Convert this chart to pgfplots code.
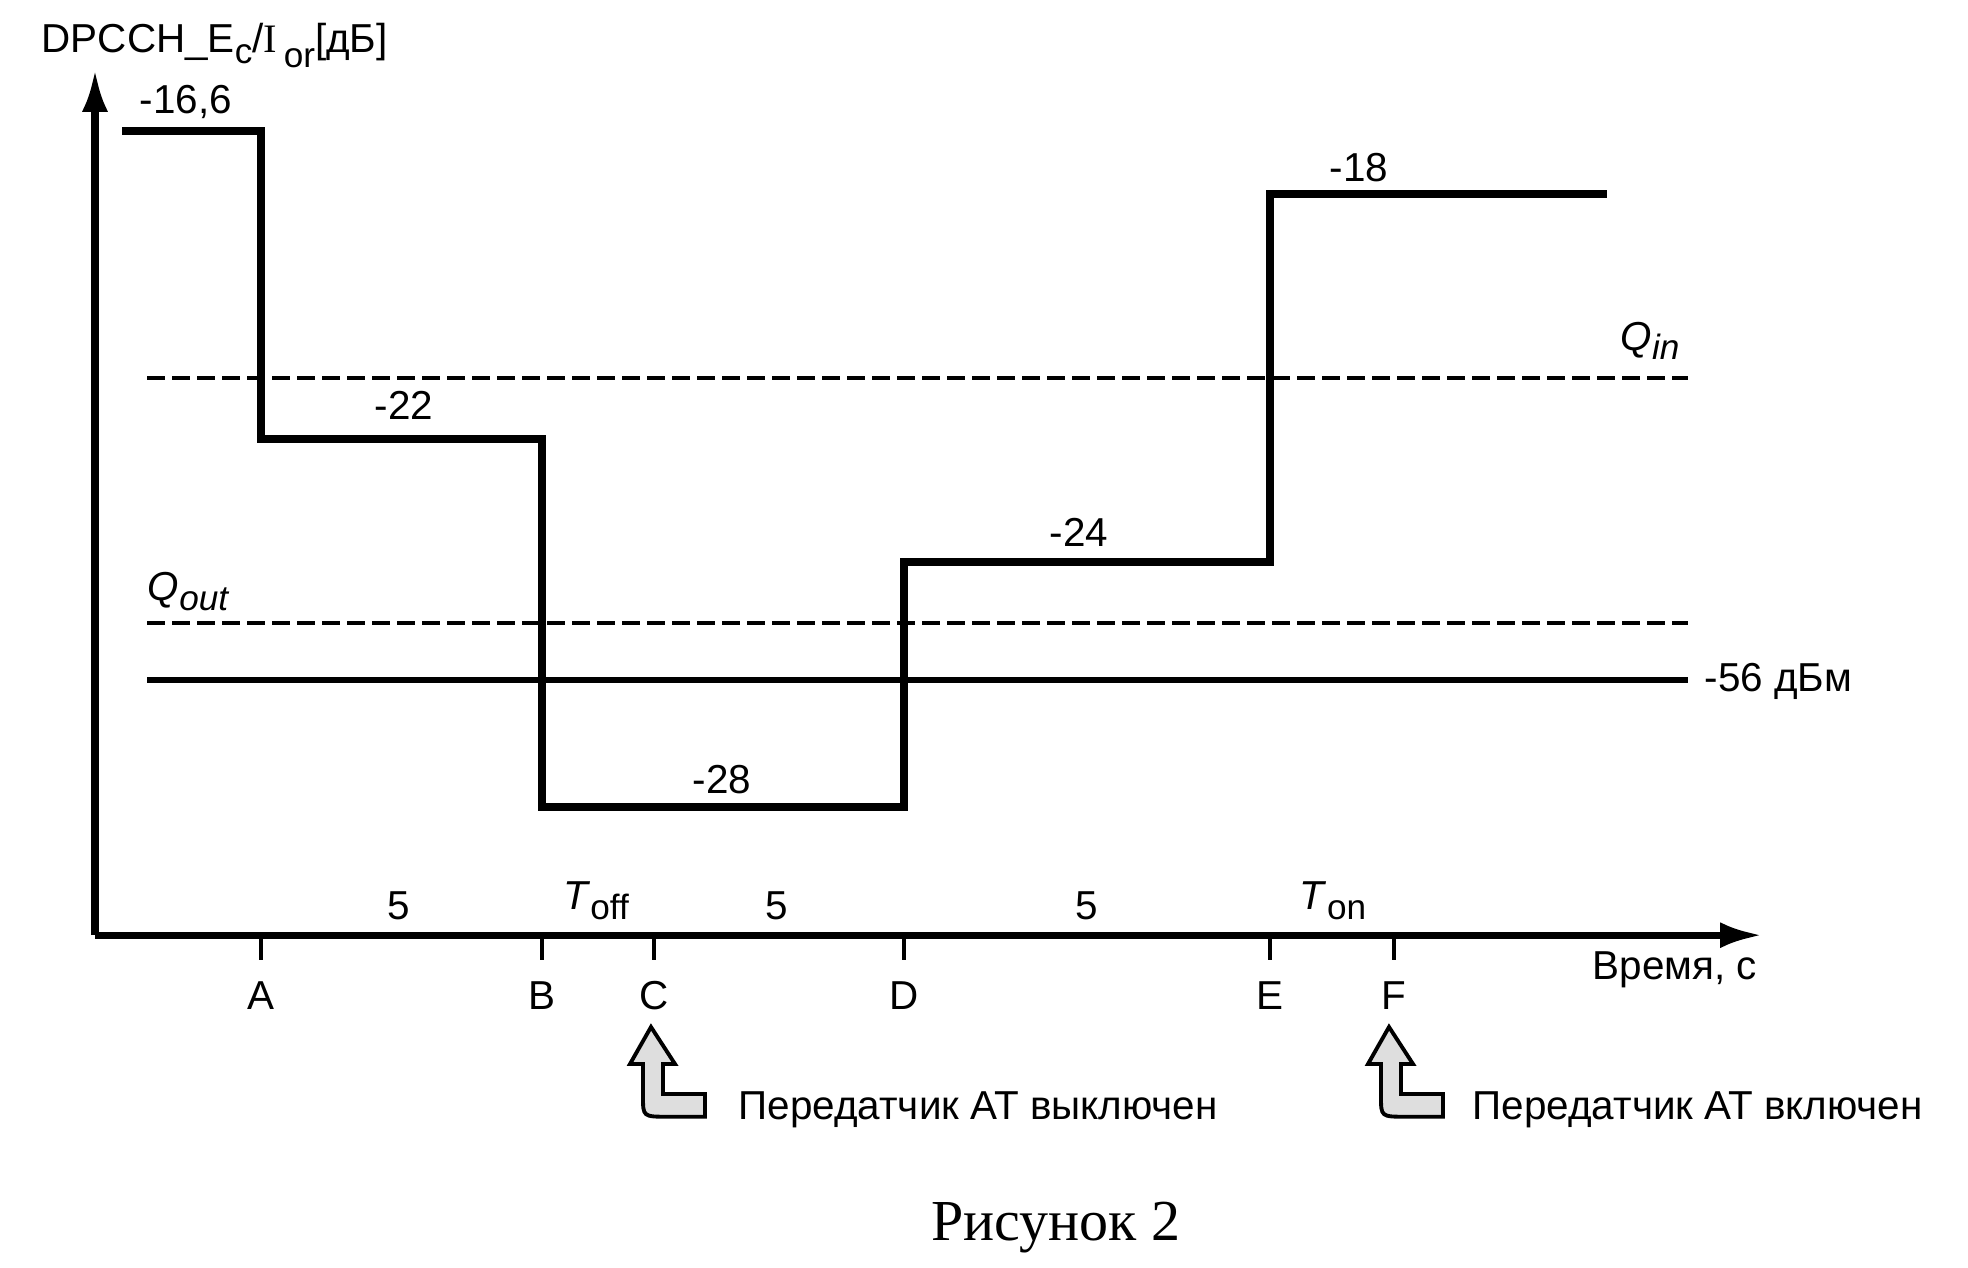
\documentclass[border=0pt]{standalone}
\usepackage{pgfplots}
\pgfplotsset{compat=1.18}
\usepackage{fontspec}
\setmainfont{Liberation Sans}
\newfontfamily\capfont{Liberation Serif}
\usetikzlibrary{arrows.meta}

\newcommand{\bigarrow}[1]{%
  \draw[line width=1.1pt, fill=black!13, line join=miter]
    (axis cs:651+#1,-31.587) -- (axis cs:675+#1,-32.19) -- (axis cs:663+#1,-32.19)
    -- (axis cs:663+#1,-32.68) -- (axis cs:705+#1,-32.68) -- (axis cs:705+#1,-33.05)
    -- (axis cs:668+#1,-33.05) .. controls (axis cs:643+#1,-33.05) .. (axis cs:643+#1,-32.72)
    -- (axis cs:643+#1,-32.19) -- (axis cs:630+#1,-32.19) -- cycle;}

\begin{document}
\begin{tikzpicture}[every node/.append style={font=\fontsize{11.5}{14}\selectfont, inner sep=0pt}]
\begin{axis}[
  scale only axis, width=19.68cm, height=12.68cm,
  xmin=0, xmax=1968, ymin=-35.516, ymax=-14.842,
  hide axis, clip=false,
]
\path (axis cs:0,-35.516) rectangle (axis cs:1968,-14.842);

% thresholds
\addplot[line width=1.2pt, dash pattern=on 1.8mm off 0.7mm] coordinates {(147,-21) (1688,-21)};
\addplot[line width=1.2pt, dash pattern=on 1.8mm off 0.7mm] coordinates {(147,-25) (1688,-25)};
\addplot[line width=1.5pt] coordinates {(147,-25.93) (1688,-25.93)};

% step curve
\addplot[line width=2.3pt, const plot, line join=miter] coordinates {
  (122,-16.98) (261,-22) (542,-28) (904,-24) (1270,-18) (1607,-18)};

% axes
\addplot[line width=2pt, -{Latex[length=4.2mm,width=2.6mm]}] coordinates {(95,-30.09) (1762,-30.09)};
\addplot[line width=2pt, -{Latex[length=4.2mm,width=2.6mm]}] coordinates {(95,-30.09) (95,-15.98)};

% ticks
\foreach \t in {261,542,654,904,1270,1394}{
  \edef\tmp{\noexpand\draw[line width=1pt] (axis cs:\t,-30.09) -- (axis cs:\t,-30.49);}\tmp}

% labels
\node at (axis cs:186,-16.50) {-16,6};
\node at (axis cs:404,-21.45) {-22};
\node at (axis cs:722,-27.56) {-28};
\node at (axis cs:1079,-23.53) {-24};
\node at (axis cs:1359,-17.57) {-18};
\node at (axis cs:1650,-20.40) {\itshape Q\raisebox{-0.45ex}{\fontsize{10}{12}\selectfont in}};
\node at (axis cs:188,-24.49) {\itshape Q\raisebox{-0.45ex}{\fontsize{10}{12}\selectfont out}};
\node[anchor=west] at (axis cs:1704,-25.95) {-56 дБм};
\node at (axis cs:399,-29.61) {5};
\node at (axis cs:777,-29.61) {5};
\node at (axis cs:1087,-29.61) {5};
\node at (axis cs:596,-29.53) {\textit{T}\raisebox{-0.45ex}{\fontsize{10}{12}\selectfont off}};
\node at (axis cs:1333,-29.53) {\textit{T}\raisebox{-0.45ex}{\fontsize{10}{12}\selectfont on}};
\node at (axis cs:261,-31.07) {A};
\node at (axis cs:542,-31.07) {B};
\node at (axis cs:654,-31.07) {C};
\node at (axis cs:904,-31.07) {D};
\node at (axis cs:1270,-31.07) {E};
\node at (axis cs:1394,-31.07) {F};
\node at (axis cs:1675,-30.66) {Время, с};
\node[anchor=west] at (axis cs:41,-15.58) {DPCCH\_E\raisebox{-0.55ex}{\fontsize{10}{12}\selectfont c}/{\capfont I}\,\raisebox{-0.7ex}{\fontsize{10}{12}\selectfont or}[дБ]};

% annotations
\bigarrow{0}
\bigarrow{738}
\node[anchor=west] at (axis cs:738,-32.93) {Передатчик АТ выключен};
\node[anchor=west] at (axis cs:1472,-32.93) {Передатчик АТ включен};

\node at (axis cs:1056,-34.85) {\capfont\fontsize{16.5}{20}\selectfont Рисунок 2};
\end{axis}
\end{tikzpicture}
\end{document}
